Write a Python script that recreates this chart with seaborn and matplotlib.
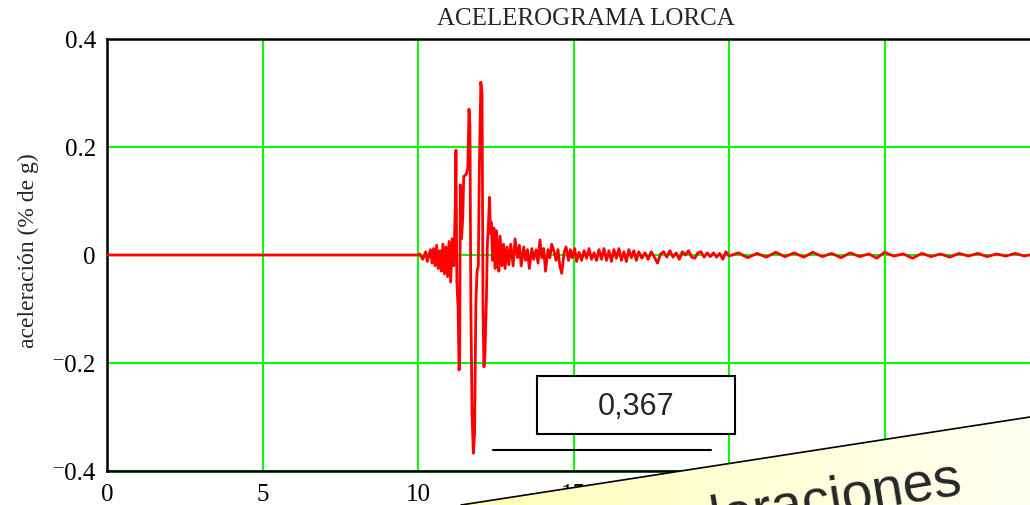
import numpy as np
import pandas as pd
import matplotlib
matplotlib.use("Agg")
import matplotlib.pyplot as plt
from matplotlib.patches import Polygon, Rectangle
from matplotlib.colors import LinearSegmentedColormap
import seaborn as sns

t_quiet = [0.0, 10.0]
a_quiet = [0.0, 0.0]

t_pre = [10.05, 10.15, 10.25, 10.3, 10.4, 10.45, 10.5, 10.55, 10.6, 10.65, 10.7, 10.75,
         10.8, 10.85, 10.9, 10.95, 11.0, 11.05, 11.1, 11.15, 11.18]
a_pre = [0.002, -0.008, 0.006, -0.012, 0.01, -0.015, 0.012, -0.02, 0.018, -0.025, 0.008, -0.03,
         0.02, -0.035, 0.015, -0.04, 0.025, -0.05, 0.03, -0.02, 0.05]

t_main = [11.2, 11.22, 11.25, 11.29, 11.32, 11.34, 11.36, 11.40, 11.44, 11.47, 11.55, 11.6,
          11.64, 11.67, 11.7, 11.74, 11.78, 11.82, 11.86, 11.9, 11.94, 11.97, 12.02, 12.06,
          12.09, 12.12, 12.15, 12.18, 12.2, 12.23, 12.26, 12.3, 12.33, 12.36, 12.4, 12.44,
          12.48, 12.52, 12.56, 12.6, 12.64, 12.7, 12.75, 12.8, 12.86, 12.92, 12.98]
a_main = [0.09, 0.194, -0.05, -0.1, -0.213, -0.2, 0.13, 0.03, 0.07, 0.145, 0.15, 0.16,
          0.27, 0.24, -0.1, -0.3, -0.367, -0.33, -0.09, -0.03, -0.02, 0.15, 0.32, 0.3,
          -0.1, -0.207, -0.19, -0.12, -0.08, 0.02, 0.05, 0.107, 0.04, 0.06, -0.01, 0.05,
          -0.025, 0.045, 0.01, -0.03, 0.035, -0.02, 0.02, -0.025, 0.015, -0.018, 0.02]

t_coda = [13.06, 13.12, 13.2, 13.26, 13.32, 13.4, 13.46, 13.52, 13.58, 13.66, 13.72, 13.8,
          13.86, 13.92, 13.98, 14.04, 14.1, 14.18, 14.24, 14.3, 14.38, 14.44, 14.5, 14.56,
          14.62, 14.7, 14.76, 14.84, 14.9, 14.96, 15.04, 15.1, 15.18, 15.26, 15.34, 15.42,
          15.5, 15.58, 15.66, 15.74, 15.82, 15.9, 15.98, 16.06, 16.14, 16.22, 16.3, 16.38,
          16.46, 16.54, 16.62, 16.7, 16.78, 16.86, 16.94, 17.02, 17.1, 17.2, 17.3, 17.4,
          17.5, 17.6, 17.7, 17.8, 17.9, 18.0, 18.1, 18.2, 18.3, 18.4, 18.5, 18.6, 18.7,
          18.8, 18.9, 19.0, 19.1, 19.2, 19.3, 19.4, 19.5, 19.6, 19.7, 19.8, 19.9, 20.0]
a_coda = [-0.02, 0.03, -0.005, 0.018, -0.02, 0.015, -0.01, 0.01, -0.025, 0.012, -0.008, 0.01,
          -0.015, 0.028, -0.005, 0.012, -0.03, 0.01, -0.005, 0.02, 0.005, -0.01, 0.01, -0.02,
          -0.034, 0.005, 0.015, -0.01, 0.01, -0.005, 0.012, -0.012, 0.005, -0.01, 0.008, -0.006,
          0.012, -0.008, 0.004, -0.01, 0.01, -0.008, 0.012, -0.01, 0.008, -0.012, 0.01, -0.006,
          0.012, -0.01, 0.006, -0.012, 0.01, -0.005, 0.008, -0.01, 0.006, -0.006, 0.004, -0.008,
          0.006, -0.004, -0.015, 0.002, 0.006, -0.004, 0.008, -0.004, 0.004, -0.008, 0.006, 0.0, 0.008,
          -0.004, -0.006, 0.004, 0.006, -0.004, 0.004, -0.003, 0.004, -0.004, 0.003, -0.008, 0.006, -0.002]

t_tail = [20.3, 20.6, 20.9, 21.2, 21.5, 21.8, 22.1, 22.4, 22.7, 23.0, 23.3, 23.6, 23.9,
          24.2, 24.5, 24.75, 25.0, 25.3, 25.6, 25.9, 26.2, 26.5, 26.8, 27.1, 27.4, 27.7,
          28.0, 28.3, 28.6, 28.9, 29.2, 29.5, 29.8, 30.0]
a_tail = [0.004, -0.005, 0.003, -0.004, 0.005, -0.003, 0.004, -0.004, 0.005, -0.003, 0.003, -0.005,
          0.004, -0.003, 0.002, -0.006, 0.005, -0.002, 0.002, -0.006, 0.003, -0.003, 0.002, -0.004,
          0.003, -0.002, 0.003, -0.003, 0.002, -0.002, 0.003, -0.002, 0.002, 0.0]

x_ticks = [0, 5, 10, 15, 20, 25]
y_ticks = [-0.4, -0.2, 0, 0.2, 0.4]
y_labels = ["\u207b0.4", "\u207b0.2", "0", "0.2", "0.4"]
valor_pico = "0,367"

df = pd.DataFrame({
    "t": t_quiet + t_pre + t_main + t_coda + t_tail,
    "a": a_quiet + a_pre + a_main + a_coda + a_tail,
})

sns.set_style("white")
serif = ["Liberation Serif", "DejaVu Serif"]
sans = ["Liberation Sans", "DejaVu Sans"]
plt.rcParams["font.family"] = serif

W, H = 1030, 506
fig = plt.figure(figsize=(W / 100, H / 100), dpi=100)
ax = fig.add_axes([107 / W, 34 / H, 933 / W, 432 / H])

sns.lineplot(data=df, x="t", y="a", color="#ff0000", lw=2.0, estimator=None, sort=False, ax=ax, zorder=3)

ax.set_xlim(0, 30)
ax.set_ylim(-0.4, 0.4)
ax.set_xticks(x_ticks)
ax.set_yticks(y_ticks)
ax.set_yticklabels(y_labels)
ax.grid(True, color="#00ff00", lw=1.5)
ax.set_axisbelow(True)
ax.tick_params(length=0, labelsize=18, colors="black")
ax.tick_params(axis="x", pad=9)
ax.tick_params(axis="y", pad=8)
ax.set_xlabel("")
ax.set_ylabel("")
for s in ax.spines.values():
    s.set_color("black")
    s.set_linewidth(1.8)

fig.text(586 / W, 1 - 25 / H, "ACELEROGRAMA LORCA", ha="center", va="baseline", fontsize=18)
fig.text(28 / W, 1 - 251 / H, "aceleración (% de g)", rotation=90, ha="center", va="center", fontsize=17)

# superposición de la diapositiva
ov = fig.add_axes([0, 0, 1, 1], zorder=10)
ov.set_xlim(0, W)
ov.set_ylim(H, 0)
ov.axis("off")
ov.patch.set_alpha(0)

ov.add_patch(Rectangle((537, 377), 198, 58, fc="white", ec="black", lw=1.5))
ov.text(636, 407, valor_pico, ha="center", va="center", fontsize=22, family=sans)
ov.plot([493, 711], [451, 451], color="black", lw=1.5)

wedge = Polygon([(461, 506), (1030, 418), (1030, 506)], closed=True, fc="none", ec="none")
ov.add_patch(wedge)
cmap = LinearSegmentedColormap.from_list("amarillo", ["#ffffb8", "#fffff2"])
grad = np.linspace(0, 1, 256).reshape(1, -1)
img = ov.imshow(grad, extent=[455, 1030, 506, 410], cmap=cmap, aspect="auto", zorder=1)
img.set_clip_path(wedge)
ov.plot([461, 1030], [506, 418], color="black", lw=1.2, zorder=2)
ov.text(964, 493, "aceleraciones", ha="right", va="baseline", rotation=9.3,
        rotation_mode="anchor", fontsize=40, family=sans, zorder=3)
ov.set_xlim(0, W)
ov.set_ylim(H, 0)

fig.savefig("out.png", dpi=100)
